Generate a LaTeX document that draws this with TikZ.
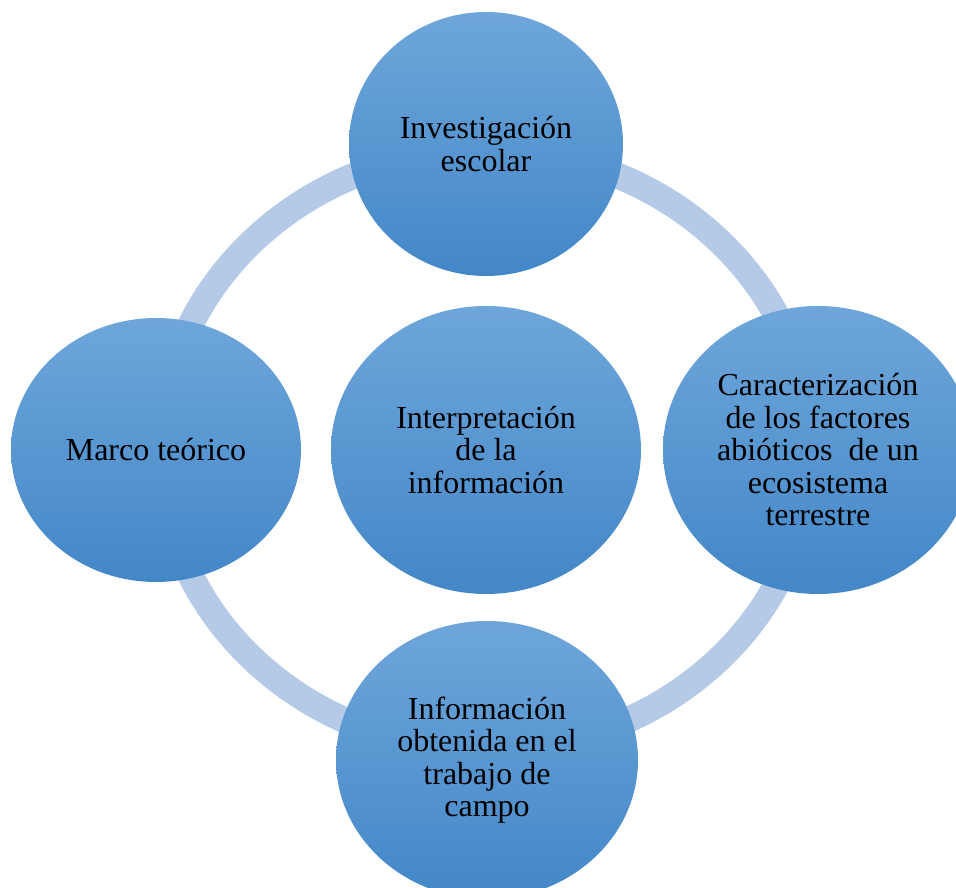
\documentclass[tikz,border=0pt]{standalone}
\usepackage{fontspec}
\setmainfont{Liberation Serif}
\usetikzlibrary{shapes.geometric}
\definecolor{ringblue}{RGB}{180, 202, 230}
\definecolor{bubbletop}{RGB}{110, 166, 218}
\definecolor{bubblemid}{RGB}{ 80, 155, 219}
\definecolor{bubblebot}{RGB}{ 67, 135, 200}

\begin{document}
\begin{tikzpicture}[x=1pt, y=1pt,
    bubble/.style={ellipse, inner sep=0pt, align=center, top color=bubbletop, middle color=bubblemid, bottom color=bubblebot, font=\fontsize{32}{32.5}\selectfont},
    ring/.style={draw=ringblue, line width=26pt}]
            \useasboundingbox                                                               (  0,   0) rectangle (956, 888);
            \coordinate                                                              (hub) at (486, 438);
            \draw[ring]                                                                     (hub) ellipse (325pt and 300pt);
            \node[bubble, minimum width=274pt, minimum height=264pt] (investigacion) at (486, 744) {Investigación\\escolar};
            \node[bubble, minimum width=290pt, minimum height=264pt] (marco)         at (156, 438) {Marco teórico};
            \node[bubble, minimum width=310pt, minimum height=288pt] (interpretacion) at (486, 438) {Interpretación\\de la\\información};
            \node[bubble, minimum width=310pt, minimum height=288pt] (caracterizacion) at (818, 438) {Caracterización\\de los factores\\abióticos\ \ de un\\ecosistema\\terrestre};
            \node[bubble, minimum width=302pt, minimum height=278pt] (campo)         at (487, 128) {Información\\obtenida en el\\trabajo de\\campo};
\end{tikzpicture}
\end{document}
